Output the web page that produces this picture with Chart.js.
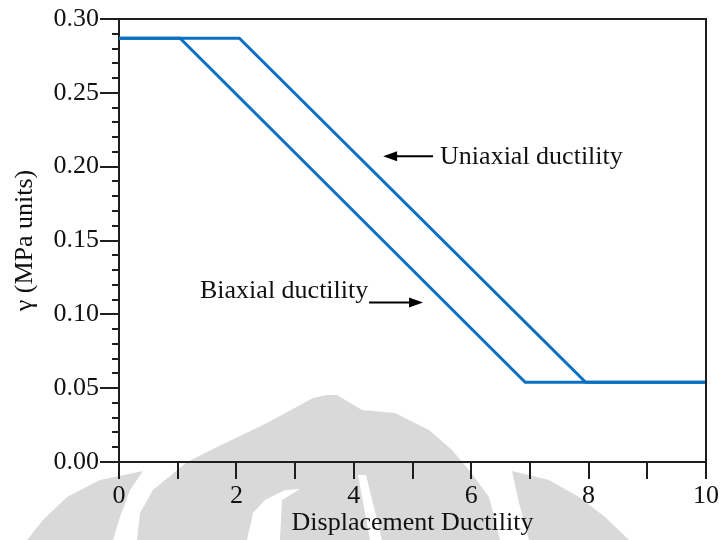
<!DOCTYPE html>
<html>
<head>
<meta charset="utf-8">
<script src="https://cdn.jsdelivr.net/npm/chart.js@4.4.1/dist/chart.umd.min.js"></script>
<style>
  body { margin: 0; background: #fff; }
  canvas { display: block; }
</style>
</head>
<body>
<canvas id="chart" width="724" height="540"></canvas>
<script>
// values
const uniaxialX = [0, 2.05, 7.95, 10];
const uniaxialY = [0.287, 0.287, 0.054, 0.054];
const biaxialX = [0, 1.04, 6.92, 10];
const biaxialY = [0.287, 0.287, 0.054, 0.054];

const yMajorTicks = [0, 0.05, 0.10, 0.15, 0.20, 0.25, 0.30];
const xTickLabels = [0, 2, 4, 6, 8, 10];
const yMinorStep = 0.01;

// annotation texts and arrows, in data units
const noteLabels = ['Uniaxial ductility', 'Biaxial ductility'];
const noteTextX = [5.47, 1.38];
const noteTextY = [0.202, 0.111];
const arrowFromX = [5.35, 4.26];
const arrowToX = [4.50, 5.18];
const arrowY = [0.207, 0.108];

const lineColor = '#0b70c2';
const axisColor = '#1e1e1e';
const textColor = '#111';
const serif = { family: "'Liberation Serif', 'Times New Roman', serif", size: 26 };

// faint logo watermark behind the figure (background only, pixel space)
const watermarkShapes = [
  [[143, 471], [100, 480], [67, 497], [43, 520], [27, 540], [113, 540], [120, 517], [130, 490]],
  [[137, 540], [140, 513], [153, 490], [187, 462], [217, 447], [267, 423], [313, 398], [327, 395],
   [337, 395], [362, 410], [395, 413], [429, 430], [452, 450], [469, 470], [489, 497], [500, 540]],
  [[512, 471], [549, 480], [579, 497], [605, 517], [629, 540], [529, 540], [519, 503]]
];
const watermarkHoles = [
  [[247, 540], [253, 513], [265, 500], [285, 490], [300, 489], [282, 500], [280, 540]],
  [[358, 475], [366, 475], [382, 540], [370, 540]]
];

const toPoints = (xs, ys) => xs.map((x, i) => ({ x: x, y: ys[i] }));

const fillPoly = (ctx, pts, color) => {
  ctx.fillStyle = color;
  ctx.beginPath();
  pts.forEach(([x, y], i) => (i ? ctx.lineTo(x, y) : ctx.moveTo(x, y)));
  ctx.closePath();
  ctx.fill();
};

const watermarkPlugin = {
  id: 'watermark',
  beforeDraw(chart) {
    const ctx = chart.ctx;
    ctx.save();
    ctx.fillStyle = '#fff';
    ctx.fillRect(0, 0, chart.width, chart.height);
    watermarkShapes.forEach(p => fillPoly(ctx, p, '#d9d9d9'));
    watermarkHoles.forEach(p => fillPoly(ctx, p, '#fff'));
    ctx.restore();
  }
};

const drawArrow = (ctx, x1, y1, x2, y2) => {
  const dir = Math.sign(x2 - x1);
  ctx.beginPath();
  ctx.moveTo(x1, y1);
  ctx.lineTo(x2 - dir * 8, y2);
  ctx.stroke();
  ctx.beginPath();
  ctx.moveTo(x2, y2);
  ctx.lineTo(x2 - dir * 14, y2 - 5);
  ctx.lineTo(x2 - dir * 14, y2 + 5);
  ctx.closePath();
  ctx.fill();
};

const decorPlugin = {
  id: 'decor',
  afterDraw(chart) {
    const ctx = chart.ctx;
    const area = chart.chartArea;
    const xs = chart.scales.x;
    const ys = chart.scales.y;
    ctx.save();
    ctx.strokeStyle = axisColor;
    ctx.fillStyle = axisColor;
    ctx.lineWidth = 2;

    // box on top and right
    ctx.beginPath();
    ctx.moveTo(area.left, area.top);
    ctx.lineTo(area.right, area.top);
    ctx.lineTo(area.right, area.bottom);
    ctx.stroke();

    // minor ticks on y
    const steps = Math.round(ys.max / yMinorStep);
    for (let i = 1; i < steps; i++) {
      if (i % 5 === 0) continue;
      const py = Math.round(ys.getPixelForValue(i * yMinorStep));
      ctx.beginPath();
      ctx.moveTo(area.left - 7, py);
      ctx.lineTo(area.left, py);
      ctx.stroke();
    }

    // annotations
    ctx.font = `${serif.size}px ${serif.family}`;
    ctx.textBaseline = 'alphabetic';
    ctx.textAlign = 'left';
    noteLabels.forEach((txt, i) => {
      ctx.fillStyle = textColor;
      ctx.fillText(txt, xs.getPixelForValue(noteTextX[i]), ys.getPixelForValue(noteTextY[i]));
      ctx.fillStyle = '#000';
      ctx.strokeStyle = '#000';
      const ay = ys.getPixelForValue(arrowY[i]);
      drawArrow(ctx, xs.getPixelForValue(arrowFromX[i]), ay, xs.getPixelForValue(arrowToX[i]), ay);
    });
    ctx.restore();
  }
};

const ctx = document.getElementById('chart').getContext('2d');
new Chart(ctx, {
  type: 'line',
  data: {
    datasets: [
      {
        label: 'Uniaxial ductility',
        data: toPoints(uniaxialX, uniaxialY),
        borderColor: lineColor,
        borderWidth: 3,
        pointRadius: 0,
        tension: 0
      },
      {
        label: 'Biaxial ductility',
        data: toPoints(biaxialX, biaxialY),
        borderColor: lineColor,
        borderWidth: 3,
        pointRadius: 0,
        tension: 0
      }
    ]
  },
  options: {
    responsive: false,
    animation: false,
    layout: { padding: { top: 19, right: 18, left: 0, bottom: 0 } },
    plugins: {
      legend: { display: false },
      tooltip: { enabled: false }
    },
    scales: {
      x: {
        type: 'linear',
        min: 0,
        max: 10,
        afterFit: (scale) => { scale.height = 78; },
        ticks: {
          stepSize: 1,
          autoSkip: false,
          maxRotation: 0,
          padding: 2,
          color: textColor,
          font: serif,
          callback: (v) => (xTickLabels.includes(v) ? String(v) : '')
        },
        grid: { drawOnChartArea: false, tickLength: 17, lineWidth: 2, color: axisColor },
        border: { color: axisColor, width: 2 },
        title: {
          display: true,
          text: 'Displacement Ductility',
          color: textColor,
          font: serif,
          padding: { top: 0, bottom: 1 }
        }
      },
      y: {
        min: 0,
        max: 0.3,
        afterFit: (scale) => { scale.width = 119; },
        afterBuildTicks: (scale) => { scale.ticks = yMajorTicks.map(v => ({ value: v })); },
        ticks: {
          padding: 1,
          color: textColor,
          font: serif,
          callback: (v) => v.toFixed(2)
        },
        grid: { drawOnChartArea: false, tickLength: 19, lineWidth: 2, color: axisColor },
        border: { color: axisColor, width: 2 },
        title: {
          display: true,
          text: 'γ (MPa units)',
          color: textColor,
          font: serif,
          padding: { top: 10, bottom: 0 }
        }
      }
    }
  },
  plugins: [watermarkPlugin, decorPlugin]
});
</script>
</body>
</html>
